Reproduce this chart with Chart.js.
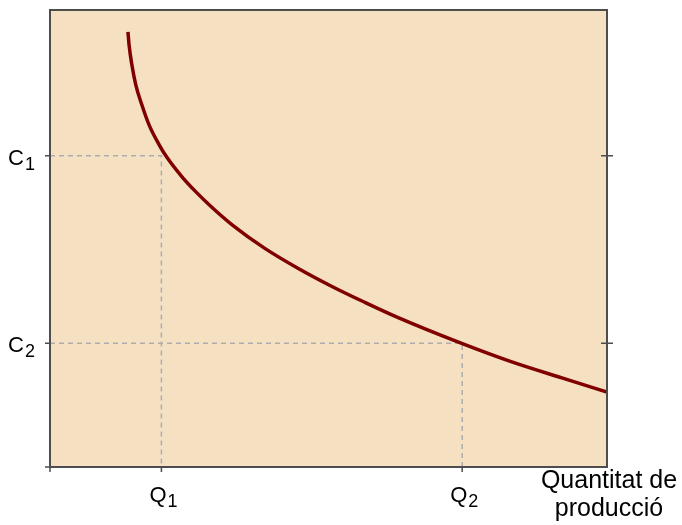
<!DOCTYPE html>
<html>
<head>
    <meta charset="utf-8">
    <title>Cost i quantitat</title>
    <script src="https://cdn.jsdelivr.net/npm/chart.js@4.4.0/dist/chart.umd.min.js"></script>
    <style>
        body { margin: 0; background: #fff; }
    </style>
</head>
<body>
    <canvas id="chart" width="682" height="525"></canvas>

    <script>
        // curve (quantity, cost)
        const curveQ = [1.40, 1.42, 1.47, 1.54, 1.65, 1.78, 1.96, 2.08, 2.37, 2.62, 2.90, 3.27, 3.85, 4.45, 5.08, 5.64, 6.23, 7.38, 8.29, 9.19, 10.0];
        const curveC = [9.52, 9.23, 8.80, 8.36, 7.92, 7.48, 7.05, 6.81, 6.35, 6.02, 5.69, 5.30, 4.79, 4.35, 3.94, 3.61, 3.28, 2.71, 2.30, 1.95, 1.64];

        // marked points
        const qTicks = [2.0, 7.4];
        const cTicks = [6.81, 2.71];
        const qLabels = ['Q', 'Q'];
        const qSubs = ['1', '2'];
        const cLabels = ['C', 'C'];
        const cSubs = ['1', '2'];
        const xTitle = ['Quantitat de', 'producció'];

        const curve = curveQ.map((q, i) => ({ x: q, y: curveC[i] }));

        // dashed guides from the axes to each marked point
        const guides = qTicks.map((q, i) => ({
            data: [{ x: 0, y: cTicks[i] }, { x: q, y: cTicks[i] }, { x: q, y: 0 }],
            borderColor: '#adadad',
            borderWidth: 1.5,
            borderDash: [5, 4],
            pointRadius: 0,
            showLine: true,
            tension: 0,
            order: 2
        }));

        const framePlugin = {
            id: 'frame',
            beforeDatasetsDraw(chart) {
                const { ctx, chartArea: a } = chart;
                ctx.save();
                ctx.fillStyle = '#f5e1c2';
                ctx.fillRect(a.left, a.top, a.right - a.left, a.bottom - a.top);
                ctx.restore();
            },
            afterDraw(chart) {
                const { ctx, chartArea: a, scales } = chart;
                const xs = scales.x, ys = scales.y;
                ctx.save();
                ctx.strokeStyle = '#4d4d4d';
                ctx.lineWidth = 2;
                ctx.strokeRect(a.left, a.top, a.right - a.left, a.bottom - a.top);

                ctx.lineWidth = 1.5;
                ctx.beginPath();
                [0, ...cTicks].forEach(v => {
                    const y = ys.getPixelForValue(v);
                    ctx.moveTo(a.left - 5, y); ctx.lineTo(a.left, y);
                });
                cTicks.forEach(v => {
                    const y = ys.getPixelForValue(v);
                    ctx.moveTo(a.right - 6, y); ctx.lineTo(a.right + 6, y);
                });
                [0, ...qTicks].forEach(v => {
                    const x = xs.getPixelForValue(v);
                    ctx.moveTo(x, a.bottom); ctx.lineTo(x, a.bottom + 5);
                });
                ctx.stroke();

                ctx.fillStyle = '#000';
                ctx.textAlign = 'left';
                ctx.textBaseline = 'alphabetic';
                cTicks.forEach((v, i) => {
                    const y = ys.getPixelForValue(v);
                    ctx.font = '22px "Liberation Sans", Arial, sans-serif';
                    ctx.fillText(cLabels[i], 8, y + 9);
                    const w = ctx.measureText(cLabels[i]).width;
                    ctx.font = '18px "Liberation Sans", Arial, sans-serif';
                    ctx.fillText(cSubs[i], 8 + w + 1, y + 14);
                });
                qTicks.forEach((v, i) => {
                    const x = xs.getPixelForValue(v);
                    ctx.font = '22px "Liberation Sans", Arial, sans-serif';
                    const w = ctx.measureText(qLabels[i]).width;
                    ctx.fillText(qLabels[i], x - 12, 502);
                    ctx.font = '18px "Liberation Sans", Arial, sans-serif';
                    ctx.fillText(qSubs[i], x - 12 + w + 1, 507);
                });

                ctx.textAlign = 'center';
                ctx.font = '25px "Liberation Sans", Arial, sans-serif';
                xTitle.forEach((t, i) => ctx.fillText(t, a.right + 2, 488 + i * 28));
                ctx.restore();
            }
        };

        const ctx = document.getElementById('chart').getContext('2d');
        const myChart = new Chart(ctx, {
            type: 'scatter',
            data: {
                datasets: [{
                    data: curve,
                    borderColor: '#800000',
                    borderWidth: 3.5,
                    pointRadius: 0,
                    showLine: true,
                    cubicInterpolationMode: 'monotone',
                    order: 1
                }, ...guides]
            },
            options: {
                responsive: false,
                animation: false,
                layout: { padding: { left: 50, right: 75, top: 10, bottom: 58 } },
                plugins: { legend: { display: false }, tooltip: { enabled: false } },
                scales: {
                    x: { type: 'linear', min: 0, max: 10, display: false },
                    y: { type: 'linear', min: 0, max: 10, display: false }
                }
            },
            plugins: [framePlugin]
        });
    </script>
</body>
</html>
